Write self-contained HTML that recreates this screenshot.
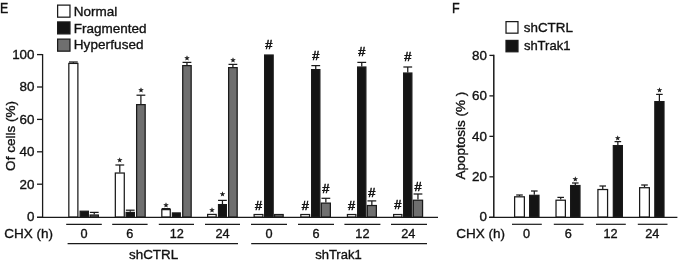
<!DOCTYPE html>
<html><head><meta charset="utf-8"><title>Figure</title>
<style>
html,body{margin:0;padding:0;background:#fff;}
svg{display:block;}
svg text.hs{stroke-width:0.55px;}
svg text.st{font-family:"DejaVu Sans",sans-serif;stroke-width:0.4px;}
svg text{font-family:"Liberation Sans",sans-serif;fill:#111;stroke:#111;stroke-width:0.35px;}
</style></head>
<body>
<svg width="679" height="263" viewBox="0 0 679 263">
<rect x="0" y="0" width="679" height="263" fill="#ffffff"/>
<text transform="translate(0.1,12.8) scale(0.92,1.05)" font-size="13.5">E</text>
<rect x="57.62" y="5.12" width="12.35" height="12.05" fill="#ffffff" stroke="#1a1a1a" stroke-width="1.25"/>
<rect x="57.62" y="21.93" width="12.35" height="11.95" fill="#141414" stroke="#1a1a1a" stroke-width="1.25"/>
<rect x="57.62" y="39.12" width="12.35" height="12.05" fill="#6f6f6f" stroke="#1a1a1a" stroke-width="1.25"/>
<text x="73.70" y="15.80" font-size="13.5" text-anchor="start" >Normal</text>
<text x="73.70" y="32.50" font-size="13.5" text-anchor="start" >Fragmented</text>
<text x="73.70" y="49.40" font-size="13.5" text-anchor="start" letter-spacing="0.1">Hyperfused</text>
<line x1="42.60" y1="54.05" x2="42.60" y2="217.85" stroke="#1a1a1a" stroke-width="1.3"/>
<line x1="37.00" y1="54.60" x2="42.60" y2="54.60" stroke="#1a1a1a" stroke-width="1.3"/>
<text x="34.50" y="58.90" font-size="13.4" text-anchor="end" >100</text>
<line x1="37.00" y1="87.00" x2="42.60" y2="87.00" stroke="#1a1a1a" stroke-width="1.3"/>
<text x="34.50" y="91.30" font-size="13.4" text-anchor="end" >80</text>
<line x1="37.00" y1="119.40" x2="42.60" y2="119.40" stroke="#1a1a1a" stroke-width="1.3"/>
<text x="34.50" y="123.70" font-size="13.4" text-anchor="end" >60</text>
<line x1="37.00" y1="151.80" x2="42.60" y2="151.80" stroke="#1a1a1a" stroke-width="1.3"/>
<text x="34.50" y="156.10" font-size="13.4" text-anchor="end" >40</text>
<line x1="37.00" y1="184.20" x2="42.60" y2="184.20" stroke="#1a1a1a" stroke-width="1.3"/>
<text x="34.50" y="188.50" font-size="13.4" text-anchor="end" >20</text>
<line x1="37.00" y1="217.30" x2="42.60" y2="217.30" stroke="#1a1a1a" stroke-width="1.3"/>
<text x="34.50" y="221.30" font-size="13.4" text-anchor="end" >0</text>
<line x1="37.00" y1="217.30" x2="438.00" y2="217.30" stroke="#1a1a1a" stroke-width="1.3"/>
<text transform="translate(15.0,136.0) rotate(-90)" font-size="13.5" text-anchor="middle">Of cells (%)</text>
<text x="4.20" y="237.60" font-size="13.5" text-anchor="start" >CHX (h)</text>
<line x1="66.20" y1="224.30" x2="101.80" y2="224.30" stroke="#1a1a1a" stroke-width="1.2"/>
<text x="84.00" y="237.60" font-size="12.7" text-anchor="middle" >0</text>
<line x1="73.35" y1="62.00" x2="73.35" y2="62.80" stroke="#1a1a1a" stroke-width="1.25"/>
<line x1="68.95" y1="62.00" x2="77.75" y2="62.00" stroke="#1a1a1a" stroke-width="1.25"/>
<rect x="68.83" y="63.42" width="9.05" height="153.55" fill="#ffffff" stroke="#1a1a1a" stroke-width="1.25"/>
<rect x="80.12" y="211.22" width="8.25" height="5.75" fill="#141414" stroke="#1a1a1a" stroke-width="1.25"/>
<line x1="94.25" y1="212.40" x2="94.25" y2="214.40" stroke="#1a1a1a" stroke-width="1.25"/>
<line x1="89.85" y1="212.40" x2="98.65" y2="212.40" stroke="#1a1a1a" stroke-width="1.25"/>
<rect x="90.12" y="215.03" width="8.25" height="1.95" fill="#6f6f6f" stroke="#1a1a1a" stroke-width="1.25"/>
<line x1="112.20" y1="224.30" x2="147.60" y2="224.30" stroke="#1a1a1a" stroke-width="1.2"/>
<text x="129.70" y="237.60" font-size="12.7" text-anchor="middle" >6</text>
<line x1="119.80" y1="165.00" x2="119.80" y2="172.40" stroke="#1a1a1a" stroke-width="1.25"/>
<line x1="115.40" y1="165.00" x2="124.20" y2="165.00" stroke="#1a1a1a" stroke-width="1.25"/>
<rect x="115.33" y="173.03" width="8.95" height="43.95" fill="#ffffff" stroke="#1a1a1a" stroke-width="1.25"/>
<text x="119.80" y="161.80" font-size="5.6" text-anchor="middle" class="st">★</text>
<line x1="130.25" y1="210.20" x2="130.25" y2="211.80" stroke="#1a1a1a" stroke-width="1.25"/>
<line x1="125.85" y1="210.20" x2="134.65" y2="210.20" stroke="#1a1a1a" stroke-width="1.25"/>
<rect x="126.12" y="212.43" width="8.25" height="4.55" fill="#141414" stroke="#1a1a1a" stroke-width="1.25"/>
<line x1="140.90" y1="95.20" x2="140.90" y2="104.00" stroke="#1a1a1a" stroke-width="1.25"/>
<line x1="136.50" y1="95.20" x2="145.30" y2="95.20" stroke="#1a1a1a" stroke-width="1.25"/>
<rect x="136.62" y="104.62" width="8.55" height="112.35" fill="#6f6f6f" stroke="#1a1a1a" stroke-width="1.25"/>
<text x="140.90" y="91.80" font-size="5.6" text-anchor="middle" class="st">★</text>
<line x1="158.80" y1="224.30" x2="194.00" y2="224.30" stroke="#1a1a1a" stroke-width="1.2"/>
<text x="176.70" y="237.60" font-size="12.7" text-anchor="middle" >12</text>
<line x1="166.05" y1="208.60" x2="166.05" y2="209.00" stroke="#1a1a1a" stroke-width="1.25"/>
<line x1="161.65" y1="208.60" x2="170.45" y2="208.60" stroke="#1a1a1a" stroke-width="1.25"/>
<rect x="161.82" y="209.62" width="8.45" height="7.35" fill="#ffffff" stroke="#1a1a1a" stroke-width="1.25"/>
<text x="166.05" y="207.00" font-size="5.6" text-anchor="middle" class="st">★</text>
<rect x="172.43" y="212.93" width="7.85" height="4.05" fill="#141414" stroke="#1a1a1a" stroke-width="1.25"/>
<line x1="186.95" y1="62.40" x2="186.95" y2="65.00" stroke="#1a1a1a" stroke-width="1.25"/>
<line x1="182.55" y1="62.40" x2="191.35" y2="62.40" stroke="#1a1a1a" stroke-width="1.25"/>
<rect x="182.72" y="65.62" width="8.45" height="151.35" fill="#6f6f6f" stroke="#1a1a1a" stroke-width="1.25"/>
<text x="186.95" y="60.00" font-size="5.6" text-anchor="middle" class="st">★</text>
<line x1="205.00" y1="224.30" x2="240.00" y2="224.30" stroke="#1a1a1a" stroke-width="1.2"/>
<text x="222.50" y="237.60" font-size="12.7" text-anchor="middle" >24</text>
<rect x="207.62" y="214.43" width="8.55" height="2.55" fill="#ffffff" stroke="#1a1a1a" stroke-width="1.25"/>
<text x="211.90" y="212.00" font-size="5.6" text-anchor="middle" class="st">★</text>
<line x1="222.45" y1="200.40" x2="222.45" y2="204.00" stroke="#1a1a1a" stroke-width="1.25"/>
<line x1="218.05" y1="200.40" x2="226.85" y2="200.40" stroke="#1a1a1a" stroke-width="1.25"/>
<rect x="218.53" y="204.62" width="7.85" height="12.35" fill="#141414" stroke="#1a1a1a" stroke-width="1.25"/>
<text x="222.45" y="196.40" font-size="5.6" text-anchor="middle" class="st">★</text>
<line x1="232.90" y1="64.40" x2="232.90" y2="67.00" stroke="#1a1a1a" stroke-width="1.25"/>
<line x1="228.50" y1="64.40" x2="237.30" y2="64.40" stroke="#1a1a1a" stroke-width="1.25"/>
<rect x="228.62" y="67.62" width="8.55" height="149.35" fill="#6f6f6f" stroke="#1a1a1a" stroke-width="1.25"/>
<text x="232.90" y="61.60" font-size="5.6" text-anchor="middle" class="st">★</text>
<line x1="251.00" y1="224.30" x2="287.00" y2="224.30" stroke="#1a1a1a" stroke-width="1.2"/>
<text x="269.00" y="237.60" font-size="12.7" text-anchor="middle" >0</text>
<rect x="254.12" y="214.53" width="8.75" height="2.45" fill="#ffffff" stroke="#1a1a1a" stroke-width="1.25"/>
<text x="258.50" y="209.50" font-size="12.8" text-anchor="middle" class="hs">#</text>
<rect x="264.62" y="55.02" width="8.55" height="161.95" fill="#141414" stroke="#1a1a1a" stroke-width="1.25"/>
<text x="268.90" y="48.50" font-size="12.8" text-anchor="middle" class="hs">#</text>
<rect x="274.62" y="214.53" width="8.55" height="2.45" fill="#6f6f6f" stroke="#1a1a1a" stroke-width="1.25"/>
<line x1="298.00" y1="224.30" x2="334.00" y2="224.30" stroke="#1a1a1a" stroke-width="1.2"/>
<text x="316.00" y="237.60" font-size="12.7" text-anchor="middle" >6</text>
<rect x="300.82" y="214.53" width="8.75" height="2.45" fill="#ffffff" stroke="#1a1a1a" stroke-width="1.25"/>
<text x="305.20" y="209.50" font-size="12.8" text-anchor="middle" class="hs">#</text>
<line x1="315.75" y1="65.60" x2="315.75" y2="69.00" stroke="#1a1a1a" stroke-width="1.25"/>
<line x1="311.35" y1="65.60" x2="320.15" y2="65.60" stroke="#1a1a1a" stroke-width="1.25"/>
<rect x="311.62" y="69.62" width="8.25" height="147.35" fill="#141414" stroke="#1a1a1a" stroke-width="1.25"/>
<text x="315.75" y="59.50" font-size="12.8" text-anchor="middle" class="hs">#</text>
<line x1="325.85" y1="198.30" x2="325.85" y2="202.50" stroke="#1a1a1a" stroke-width="1.25"/>
<line x1="321.45" y1="198.30" x2="330.25" y2="198.30" stroke="#1a1a1a" stroke-width="1.25"/>
<rect x="321.32" y="203.12" width="9.05" height="13.85" fill="#6f6f6f" stroke="#1a1a1a" stroke-width="1.25"/>
<text x="325.85" y="193.10" font-size="12.8" text-anchor="middle" class="hs">#</text>
<line x1="344.40" y1="224.30" x2="380.40" y2="224.30" stroke="#1a1a1a" stroke-width="1.2"/>
<text x="362.40" y="237.60" font-size="12.7" text-anchor="middle" >12</text>
<rect x="347.43" y="214.53" width="8.45" height="2.45" fill="#ffffff" stroke="#1a1a1a" stroke-width="1.25"/>
<text x="351.65" y="209.50" font-size="12.8" text-anchor="middle" class="hs">#</text>
<line x1="361.75" y1="62.40" x2="361.75" y2="66.40" stroke="#1a1a1a" stroke-width="1.25"/>
<line x1="357.35" y1="62.40" x2="366.15" y2="62.40" stroke="#1a1a1a" stroke-width="1.25"/>
<rect x="357.62" y="67.03" width="8.25" height="149.95" fill="#141414" stroke="#1a1a1a" stroke-width="1.25"/>
<text x="361.75" y="56.10" font-size="12.8" text-anchor="middle" class="hs">#</text>
<line x1="371.85" y1="200.90" x2="371.85" y2="204.90" stroke="#1a1a1a" stroke-width="1.25"/>
<line x1="367.45" y1="200.90" x2="376.25" y2="200.90" stroke="#1a1a1a" stroke-width="1.25"/>
<rect x="367.32" y="205.53" width="9.05" height="11.45" fill="#6f6f6f" stroke="#1a1a1a" stroke-width="1.25"/>
<text x="371.85" y="196.50" font-size="12.8" text-anchor="middle" class="hs">#</text>
<line x1="391.00" y1="224.30" x2="427.00" y2="224.30" stroke="#1a1a1a" stroke-width="1.2"/>
<text x="408.20" y="237.60" font-size="12.7" text-anchor="middle" >24</text>
<rect x="393.62" y="214.53" width="8.25" height="2.45" fill="#ffffff" stroke="#1a1a1a" stroke-width="1.25"/>
<text x="397.75" y="209.30" font-size="12.8" text-anchor="middle" class="hs">#</text>
<line x1="407.75" y1="67.00" x2="407.75" y2="72.40" stroke="#1a1a1a" stroke-width="1.25"/>
<line x1="403.35" y1="67.00" x2="412.15" y2="67.00" stroke="#1a1a1a" stroke-width="1.25"/>
<rect x="403.62" y="73.03" width="8.25" height="143.95" fill="#141414" stroke="#1a1a1a" stroke-width="1.25"/>
<text x="407.75" y="61.10" font-size="12.8" text-anchor="middle" class="hs">#</text>
<line x1="417.95" y1="194.00" x2="417.95" y2="199.60" stroke="#1a1a1a" stroke-width="1.25"/>
<line x1="413.55" y1="194.00" x2="422.35" y2="194.00" stroke="#1a1a1a" stroke-width="1.25"/>
<rect x="413.32" y="200.22" width="9.25" height="16.75" fill="#6f6f6f" stroke="#1a1a1a" stroke-width="1.25"/>
<text x="417.95" y="190.50" font-size="12.8" text-anchor="middle" class="hs">#</text>
<line x1="67.60" y1="243.60" x2="238.00" y2="243.60" stroke="#1a1a1a" stroke-width="1.2"/>
<line x1="251.20" y1="243.60" x2="427.00" y2="243.60" stroke="#1a1a1a" stroke-width="1.2"/>
<text x="153.60" y="259.00" font-size="13.4" text-anchor="middle" >shCTRL</text>
<text x="338.40" y="259.00" font-size="13.0" text-anchor="middle" >shTrak1</text>
<text transform="translate(452.1,12.8) scale(0.93,1.05)" font-size="13.5">F</text>
<rect x="506.02" y="21.62" width="11.95" height="11.55" fill="#ffffff" stroke="#1a1a1a" stroke-width="1.25"/>
<rect x="506.02" y="40.42" width="11.95" height="11.35" fill="#141414" stroke="#1a1a1a" stroke-width="1.25"/>
<text x="523.80" y="32.00" font-size="13.4" text-anchor="start" >shCTRL</text>
<text x="523.90" y="49.60" font-size="13.0" text-anchor="start" >shTrak1</text>
<line x1="493.80" y1="54.75" x2="493.80" y2="217.95" stroke="#1a1a1a" stroke-width="1.5"/>
<line x1="489.40" y1="55.40" x2="493.80" y2="55.40" stroke="#1a1a1a" stroke-width="1.3"/>
<text x="487.00" y="60.00" font-size="13.4" text-anchor="end" >80</text>
<line x1="489.40" y1="95.88" x2="493.80" y2="95.88" stroke="#1a1a1a" stroke-width="1.3"/>
<text x="487.00" y="100.47" font-size="13.4" text-anchor="end" >60</text>
<line x1="489.40" y1="136.35" x2="493.80" y2="136.35" stroke="#1a1a1a" stroke-width="1.3"/>
<text x="487.00" y="140.95" font-size="13.4" text-anchor="end" >40</text>
<line x1="489.40" y1="176.83" x2="493.80" y2="176.83" stroke="#1a1a1a" stroke-width="1.3"/>
<text x="487.00" y="181.43" font-size="13.4" text-anchor="end" >20</text>
<line x1="489.40" y1="217.30" x2="493.80" y2="217.30" stroke="#1a1a1a" stroke-width="1.3"/>
<text x="487.00" y="221.30" font-size="13.4" text-anchor="end" >0</text>
<line x1="489.00" y1="217.30" x2="677.40" y2="217.30" stroke="#1a1a1a" stroke-width="1.3"/>
<text transform="translate(465.2,135.6) rotate(-90)" font-size="13.5" text-anchor="middle">Apoptosis (% )</text>
<text x="456.20" y="237.60" font-size="13.5" text-anchor="start" >CHX (h)</text>
<line x1="512.00" y1="224.30" x2="541.80" y2="224.30" stroke="#1a1a1a" stroke-width="1.2"/>
<text x="526.60" y="237.60" font-size="12.7" text-anchor="middle" >0</text>
<line x1="519.50" y1="195.00" x2="519.50" y2="196.20" stroke="#1a1a1a" stroke-width="1.25"/>
<line x1="516.20" y1="195.00" x2="522.80" y2="195.00" stroke="#1a1a1a" stroke-width="1.25"/>
<rect x="514.62" y="196.82" width="9.75" height="20.15" fill="#ffffff" stroke="#1a1a1a" stroke-width="1.25"/>
<line x1="534.30" y1="191.00" x2="534.30" y2="194.70" stroke="#1a1a1a" stroke-width="1.25"/>
<line x1="531.00" y1="191.00" x2="537.60" y2="191.00" stroke="#1a1a1a" stroke-width="1.25"/>
<rect x="529.62" y="195.32" width="9.35" height="21.65" fill="#141414" stroke="#1a1a1a" stroke-width="1.25"/>
<line x1="553.80" y1="224.30" x2="583.60" y2="224.30" stroke="#1a1a1a" stroke-width="1.2"/>
<text x="568.40" y="237.60" font-size="12.7" text-anchor="middle" >6</text>
<line x1="560.70" y1="197.40" x2="560.70" y2="199.60" stroke="#1a1a1a" stroke-width="1.25"/>
<line x1="557.40" y1="197.40" x2="564.00" y2="197.40" stroke="#1a1a1a" stroke-width="1.25"/>
<rect x="556.02" y="200.22" width="9.35" height="16.75" fill="#ffffff" stroke="#1a1a1a" stroke-width="1.25"/>
<line x1="575.30" y1="183.00" x2="575.30" y2="184.90" stroke="#1a1a1a" stroke-width="1.25"/>
<line x1="572.00" y1="183.00" x2="578.60" y2="183.00" stroke="#1a1a1a" stroke-width="1.25"/>
<rect x="570.62" y="185.53" width="9.35" height="31.45" fill="#141414" stroke="#1a1a1a" stroke-width="1.25"/>
<text x="575.30" y="181.40" font-size="5.6" text-anchor="middle" class="st">★</text>
<line x1="596.00" y1="224.30" x2="625.80" y2="224.30" stroke="#1a1a1a" stroke-width="1.2"/>
<text x="610.60" y="237.60" font-size="12.7" text-anchor="middle" >12</text>
<line x1="602.75" y1="186.00" x2="602.75" y2="188.90" stroke="#1a1a1a" stroke-width="1.25"/>
<line x1="599.45" y1="186.00" x2="606.05" y2="186.00" stroke="#1a1a1a" stroke-width="1.25"/>
<rect x="597.92" y="189.53" width="9.65" height="27.45" fill="#ffffff" stroke="#1a1a1a" stroke-width="1.25"/>
<line x1="617.85" y1="141.60" x2="617.85" y2="145.00" stroke="#1a1a1a" stroke-width="1.25"/>
<line x1="614.55" y1="141.60" x2="621.15" y2="141.60" stroke="#1a1a1a" stroke-width="1.25"/>
<rect x="613.33" y="145.62" width="9.05" height="71.35" fill="#141414" stroke="#1a1a1a" stroke-width="1.25"/>
<text x="617.85" y="140.00" font-size="5.6" text-anchor="middle" class="st">★</text>
<line x1="637.80" y1="224.30" x2="667.50" y2="224.30" stroke="#1a1a1a" stroke-width="1.2"/>
<text x="652.35" y="237.60" font-size="12.7" text-anchor="middle" >24</text>
<line x1="644.50" y1="185.00" x2="644.50" y2="187.10" stroke="#1a1a1a" stroke-width="1.25"/>
<line x1="641.20" y1="185.00" x2="647.80" y2="185.00" stroke="#1a1a1a" stroke-width="1.25"/>
<rect x="639.62" y="187.72" width="9.75" height="29.25" fill="#ffffff" stroke="#1a1a1a" stroke-width="1.25"/>
<line x1="659.40" y1="94.40" x2="659.40" y2="101.00" stroke="#1a1a1a" stroke-width="1.25"/>
<line x1="656.10" y1="94.40" x2="662.70" y2="94.40" stroke="#1a1a1a" stroke-width="1.25"/>
<rect x="654.83" y="101.62" width="9.15" height="115.35" fill="#141414" stroke="#1a1a1a" stroke-width="1.25"/>
<text x="659.40" y="92.00" font-size="5.6" text-anchor="middle" class="st">★</text>
</svg>
</body></html>
